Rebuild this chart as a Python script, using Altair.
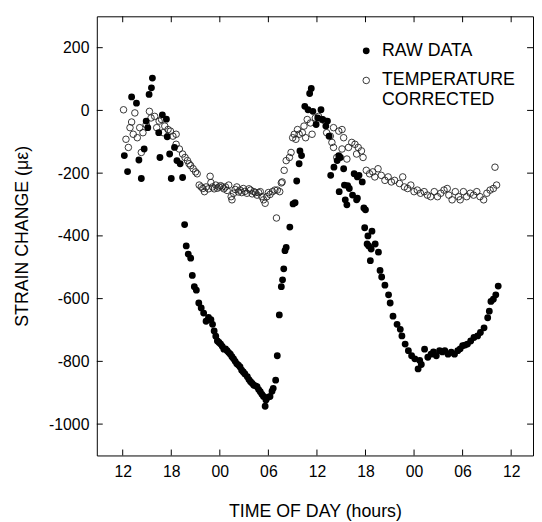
import altair as alt
import pandas as pd

# ---------------- data ----------------
# time in hours counted from midnight of day 1 (24 = 00h day 2, 48 = 00h day 3)
raw_t = [12.2, 12.6, 13.1, 13.7, 14.0, 14.3, 14.65, 14.9, 15.1, 15.26, 15.55, 15.67,
         16.45, 16.6, 16.9, 17.4, 17.5, 17.8, 18.0, 18.4, 18.7, 19.1, 19.4,
         19.65, 19.85, 20.1, 20.4, 20.6, 20.85, 21.1, 21.4, 21.7, 22.0, 22.3, 22.6,
         22.9, 23.1, 23.3, 23.5, 23.7, 23.9, 24.1, 24.3, 24.5, 24.7, 24.9, 25.1,
         25.3, 25.5, 25.7, 25.9, 26.1, 26.3, 26.5, 26.7, 26.9, 27.1, 27.4, 27.6,
         27.8, 28.0, 28.2, 28.4, 28.6, 28.8, 29.0, 29.2, 29.4, 29.6, 29.7, 29.9,
         30.2, 30.45, 30.6, 30.9, 31.1, 31.35, 31.6, 31.75, 31.9, 32.05, 32.2, 32.65,
         33.05, 33.3, 33.5, 33.8, 33.9, 34.1,
         34.5, 34.9, 35.1, 35.3, 35.5, 35.9, 36.1, 36.5, 36.7, 37.1, 37.3, 37.5,
         37.7, 38.1, 38.5, 38.7, 38.75, 38.9, 39.3, 39.4, 39.5, 39.7, 39.8, 40.0,
         40.4, 40.6, 40.9, 41.0, 41.0, 41.2, 41.6, 41.8, 41.9, 42.0, 42.2, 42.3,
         42.4, 42.6, 42.7, 42.8, 43.2, 43.6, 43.8, 44.0, 44.4, 44.85, 45.05, 45.4,
         45.9, 46.3, 46.5, 46.9, 47.3, 47.7, 48.1, 48.5, 48.7, 48.9, 49.3, 49.7,
         50.1, 50.4, 50.75, 51.15, 51.5, 51.8, 52.2, 52.6, 53.0, 53.4, 53.7, 54.0,
         54.3, 54.6, 55.0, 55.4, 55.85, 56.2, 56.65, 57.1, 57.3, 57.5, 57.8, 58.1,
         58.4]
raw_v = [-144, -195, 43, 23, -158, -217, -123, -34, -55, 51, 72, 103,
         -71, -150, -14, -28, -84, -139, -217, -118, -160, -170, -214,
         -364, -432, -458, -471, -526, -562, -573, -614, -630, -646, -672, -660,
         -667, -682, -703, -720, -735, -740, -745, -752, -761, -760, -766, -772,
         -777, -785, -792, -800, -808, -812, -818, -828, -834, -840, -849, -858,
         -865, -870, -876, -878, -881, -890, -897, -905, -912, -943, -923, -915,
         -912, -895, -886, -860, -782, -652, -562, -540, -505, -447, -437, -372,
         -298, -294, -225, -170, -129, -144,
         13, 2, 54, 70, -3, -45, -24, 2, -29, -50, -34, -82,
         -207, -181, -160, -144, -259, -150, -186, -238, -285, -301, -240, -249,
         -270, -202, -285, -212, -280, -207, -228, -311, -374, -317, -426, -400,
         -432, -479, -442, -385, -426, -452, -510, -531, -557, -588, -614, -656,
         -682, -698, -719, -745, -766, -782, -792, -824, -797, -810, -761, -787,
         -777, -770, -782, -766, -770, -766, -777, -771, -777, -766, -760, -750,
         -748, -745, -735, -724, -719, -708, -693, -661, -640, -609, -602, -588,
         -560]

tc_t = [12.1, 12.4, 12.7, 12.9, 13.1, 13.3, 13.5, 13.8, 14.1, 14.3, 14.5, 14.9,
        15.3, 15.5, 15.95, 16.2, 16.5, 16.8, 17.0, 17.2, 17.6, 17.9, 18.2, 18.6,
        18.6, 19.0, 19.4, 19.7, 20.0, 20.2, 20.4, 20.7, 21.0, 21.2, 21.45, 21.7,
        21.9, 22.1, 22.3, 22.6, 22.8, 22.9, 23.1, 23.3, 23.5, 23.7, 23.9, 24.1,
        24.3, 24.5, 24.7, 24.9, 25.1, 25.4, 25.5, 25.7, 25.9, 26.1, 26.3, 26.5,
        26.7, 26.9, 27.1, 27.35, 27.6, 27.8, 28.0, 28.2, 28.4, 28.6, 28.8, 29.0,
        29.2, 29.4, 29.6, 29.8, 30.0, 30.2, 30.5, 30.8, 31.0, 31.1, 31.4, 31.6,
        31.7, 31.95, 32.2, 32.6, 32.8, 33.0, 33.2, 33.4, 33.6, 33.8, 34.2, 34.4,
        34.6, 34.8, 35.2, 35.4, 35.8, 36.2, 36.6, 37.0, 37.2, 37.65, 37.85, 38.05,
        38.05, 38.45, 38.7, 39.1, 39.1, 39.3, 39.7, 39.9, 40.3, 40.7, 40.9, 41.1,
        41.5, 41.7, 42.1, 42.5, 42.9, 43.15, 43.55, 43.95, 44.4, 44.8, 45.2, 45.6,
        46.2, 46.6, 46.8, 47.2, 47.6, 48.0, 48.4, 48.8, 49.25, 49.65, 50.05, 50.5,
        50.9, 51.3, 51.7, 52.1, 52.3, 52.7, 53.1, 53.5, 53.7, 54.1, 54.5, 54.95,
        55.35, 55.75, 56.15, 56.6, 57.0, 57.4, 57.8, 58.0, 58.2]
tc_v = [2, -92, -118, -55, -37, -76, -8, -87, -55, -134, -71, -45,
        -3, -24, -19, -55, -34, -29, -71, -50, -61, -66, -82, -76,
        -108, -123, -139, -150, -160, -170, -176, -186, -196, -202, -238, -244,
        -249, -259, -244, -250, -210, -230, -244, -250, -238, -248, -244, -240,
        -244, -250, -244, -255, -238, -275, -285, -264, -252, -244, -260, -254,
        -262, -249, -258, -264, -250, -254, -266, -259, -262, -270, -262, -259,
        -275, -285, -296, -275, -262, -268, -259, -254, -343, -254, -259, -231,
        -228, -191, -160, -150, -134, -87, -76, -92, -61, -76, -71, -50,
        -87, -29, -40, -76, -24, -19, -29, -34, -71, -82, -102, -55,
        -118, -150, -66, -61, -123, -87, -155, -118, -102, -108, -139, -118,
        -129, -150, -191, -202, -196, -212, -186, -207, -223, -212, -228, -223,
        -233, -212, -244, -249, -238, -259, -254, -264, -259, -270, -275, -259,
        -275, -264, -254, -249, -270, -285, -259, -275, -285, -259, -275, -264,
        -270, -259, -275, -285, -264, -254, -249, -181, -238]

x_tick_values = [12, 18, 24, 30, 36, 42, 48, 54, 60]
x_tick_labels = ["12", "18", "00", "06", "12", "18", "00", "06", "12"]
y_tick_values = [-1000, -800, -600, -400, -200, 0, 200]
legend_labels = ["RAW DATA", "TEMPERATURE", "CORRECTED"]

# ---------------- chart ----------------
FONT = "Liberation Sans"
W, H = 442, 445
TICK = 6

raw = pd.DataFrame({"t": raw_t, "v": raw_v})
tc = pd.DataFrame({"t": tc_t, "v": tc_v})
xt = pd.DataFrame({"t": x_tick_values})
yt = pd.DataFrame({"v": y_tick_values})

xscale = alt.Scale(domain=[8.8, 62.7], nice=False, zero=False)
yscale = alt.Scale(domain=[-1100, 300], nice=False, zero=False)

label_expr = ("[" + ",".join("'%s'" % s for s in x_tick_labels) + "][indexof(["
              + ",".join(str(v) for v in x_tick_values) + "], datum.value)]")

xaxis = alt.Axis(values=x_tick_values, labelExpr=label_expr, title="TIME OF DAY (hours)",
                 domain=False, ticks=False, grid=False, labelPadding=8,
                 labelFont=FONT, labelFontSize=16, labelColor="black",
                 titleFont=FONT, titleFontSize=18, titleFontWeight="normal",
                 titleColor="black", titleY=57, titleBaseline="middle")
yaxis = alt.Axis(values=y_tick_values, labelExpr="'' + datum.value", title="STRAIN CHANGE (με)",
                 domain=False, ticks=False, grid=False, labelPadding=8,
                 labelFont=FONT, labelFontSize=16, labelColor="black",
                 titleFont=FONT, titleFontSize=18, titleFontWeight="normal",
                 titleColor="black", titleX=-75, titleY=H / 2, titleBaseline="middle")

X = alt.X("t:Q", scale=xscale, axis=xaxis)
Y = alt.Y("v:Q", scale=yscale, axis=yaxis)

tc_layer = alt.Chart(tc).mark_point(shape="circle", filled=False, size=44, strokeWidth=0.9,
                                    color="#222222", opacity=1).encode(x=X, y=Y)
raw_layer = alt.Chart(raw).mark_circle(size=48, color="black", opacity=1).encode(x=X, y=Y)

rule_style = dict(color="black", strokeWidth=1)
top_ticks = alt.Chart(xt).mark_rule(**rule_style).encode(
    x=X, y=alt.value(0), y2=alt.value(TICK))
bottom_ticks = alt.Chart(xt).mark_rule(**rule_style).encode(
    x=X, y=alt.value(H), y2=alt.value(H - TICK))
left_ticks = alt.Chart(yt).mark_rule(**rule_style).encode(
    y=Y, x=alt.value(0), x2=alt.value(TICK))
right_ticks = alt.Chart(yt).mark_rule(**rule_style).encode(
    y=Y, x=alt.value(W), x2=alt.value(W - TICK))

# legend (drawn inside the plot, top right)
leg_sym_raw = alt.Chart(pd.DataFrame({"label": [legend_labels[0]]})).mark_circle(
    size=48, color="black", opacity=1).encode(x=alt.value(273), y=alt.value(35))
leg_sym_tc = alt.Chart(pd.DataFrame({"label": [legend_labels[1]]})).mark_point(
    shape="circle", filled=False, size=44, strokeWidth=0.9, color="#222222", opacity=1).encode(
    x=alt.value(273), y=alt.value(65))
text_style = dict(align="left", baseline="middle", font=FONT, fontSize=18, color="black")
leg_txt = []
for lab, yy in zip(legend_labels, [35, 65, 85]):
    leg_txt.append(alt.Chart(pd.DataFrame({"label": [lab]})).mark_text(**text_style).encode(
        x=alt.value(289), y=alt.value(yy), text="label:N"))

chart = alt.layer(
    tc_layer, raw_layer, top_ticks, bottom_ticks, left_ticks, right_ticks,
    leg_sym_raw, leg_sym_tc, *leg_txt
).properties(
    width=W, height=H,
    padding={"left": 90, "top": 5, "right": 1, "bottom": 64},
    autosize=alt.AutoSizeParams(type="none"),
    background="white",
).configure_view(stroke="black", strokeWidth=1)

chart.save("out.html", embed_options={"renderer": "svg", "actions": False})
